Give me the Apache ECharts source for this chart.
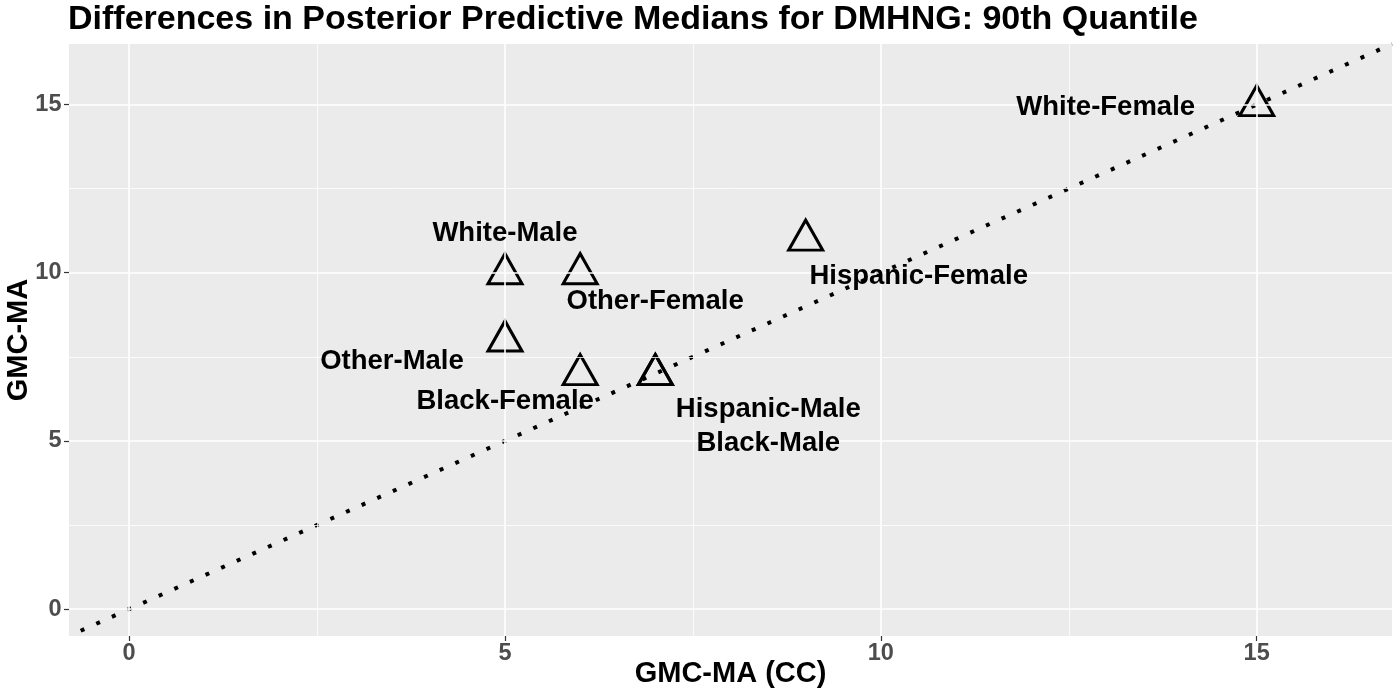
<!DOCTYPE html>
<html>
<head>
<meta charset="utf-8">
<title>Differences in Posterior Predictive Medians for DMHNG: 90th Quantile</title>
<script src="https://cdn.jsdelivr.net/npm/echarts@6/dist/echarts.min.js"></script>
<style>
  html, body { margin: 0; padding: 0; background: #fff; }
  #main { width: 1400px; height: 700px; }
</style>
</head>
<body>
<div id="main"></div>
<script>
// groups and their medians (CC on x, MA on y)
var groups   = ['White-Female', 'Hispanic-Female', 'White-Male', 'Other-Female',
                'Other-Male', 'Black-Female', 'Hispanic-Male', 'Black-Male'];
var ccValues = [15, 9, 5, 6, 5, 6, 7, 7];
var maValues = [15, 11, 10, 10, 8, 7, 7, 7];

var majorTicks = [0, 5, 10, 15];
var minorTicks = [2.5, 7.5, 12.5];
var axisMin = -0.8, axisMax = 16.8;

// pixel nudges for the text labels (like ggrepel)
var labelNudge = [[-151, 3], [113, 37], [0, -39], [75, 29],
                  [-113, 21], [-75, 28], [113, 36], [113, 70]];

var font = 'Liberation Sans, Arial, Helvetica, sans-serif';
var myChart = echarts.init(document.getElementById('main'));

var points = groups.map(function (g, i) {
    return { name: g, value: [ccValues[i], maValues[i]] };
});
var labels = groups.map(function (g, i) {
    return { name: g, value: [ccValues[i], maValues[i]], label: { offset: labelNudge[i] } };
});

var gridLines = [];
majorTicks.forEach(function (v) {
    gridLines.push({ xAxis: v, lineStyle: { width: 1.6 } });
    gridLines.push({ yAxis: v, lineStyle: { width: 1.6 } });
});
minorTicks.forEach(function (v) {
    gridLines.push({ xAxis: v, lineStyle: { width: 0.8 } });
    gridLines.push({ yAxis: v, lineStyle: { width: 0.8 } });
});

var option = {
    animation: false,
    textStyle: { fontFamily: font },
    title: {
        text: 'Differences in Posterior Predictive Medians for DMHNG: 90th Quantile',
        left: 68,
        top: 3,
        padding: 0,
        textStyle: { fontFamily: font, fontSize: 34, fontWeight: 'bold', color: '#000' }
    },
    grid: {
        left: 69, right: 8, top: 44, bottom: 64,
        outerBoundsMode: 'none',
        containLabel: false,
        show: true, backgroundColor: '#EBEBEB', borderWidth: 0
    },
    xAxis: {
        type: 'value',
        min: axisMin, max: axisMax,
        name: 'GMC-MA (CC)',
        nameLocation: 'middle',
        nameGap: 23,
        nameMoveOverlap: false,
        nameTextStyle: { fontFamily: font, fontSize: 29, fontWeight: 'bold', color: '#000' },
        axisLine: { show: false, onZero: false },
        axisTick: { show: true, customValues: majorTicks, length: 5, lineStyle: { color: '#333', width: 1.2 } },
        axisLabel: { customValues: majorTicks, fontSize: 23.5, fontWeight: 'bold', color: '#4D4D4D', margin: 6 },
        splitLine: { show: false }
    },
    yAxis: {
        type: 'value',
        min: axisMin, max: axisMax,
        name: 'GMC-MA',
        nameLocation: 'middle',
        nameRotate: 90,
        nameGap: 36,
        nameMoveOverlap: false,
        nameTextStyle: { fontFamily: font, fontSize: 29, fontWeight: 'bold', color: '#000' },
        axisLine: { show: false, onZero: false },
        axisTick: { show: true, customValues: majorTicks, length: 5, lineStyle: { color: '#333', width: 1.2 } },
        axisLabel: { customValues: majorTicks, fontSize: 23.5, fontWeight: 'bold', color: '#4D4D4D', margin: 7.5 },
        splitLine: { show: false }
    },
    series: [
        {
            type: 'scatter',
            data: [],
            z: 1,
            silent: true,
            markLine: {
                silent: true,
                symbol: 'none',
                label: { show: false },
                lineStyle: { color: '#fff', type: 'solid', opacity: 1 },
                data: gridLines
            }
        },
        {
            type: 'line',
            data: [[axisMin, axisMin], [axisMax, axisMax]],
            symbol: 'none',
            clip: true,
            z: 3,
            lineStyle: { color: '#000', width: 4, type: [4, 13.1], dashOffset: 4.3, cap: 'butt' }
        },
        {
            type: 'scatter',
            data: points,
            symbol: 'triangle',
            symbolSize: [34, 30],
            symbolOffset: [0, -4],
            z: 4,
            itemStyle: { color: 'rgba(0,0,0,0)', borderColor: '#000', borderWidth: 3, opacity: 1 }
        },
        {
            type: 'scatter',
            data: labels,
            symbolSize: 1,
            z: 5,
            itemStyle: { color: 'rgba(0,0,0,0)', opacity: 1 },
            label: {
                show: true,
                position: 'inside',
                formatter: '{b}',
                fontFamily: font,
                fontSize: 27.5,
                fontWeight: 'bold',
                color: '#000',
                opacity: 1
            }
        }
    ]
};
myChart.setOption(option);
</script>
</body>
</html>
